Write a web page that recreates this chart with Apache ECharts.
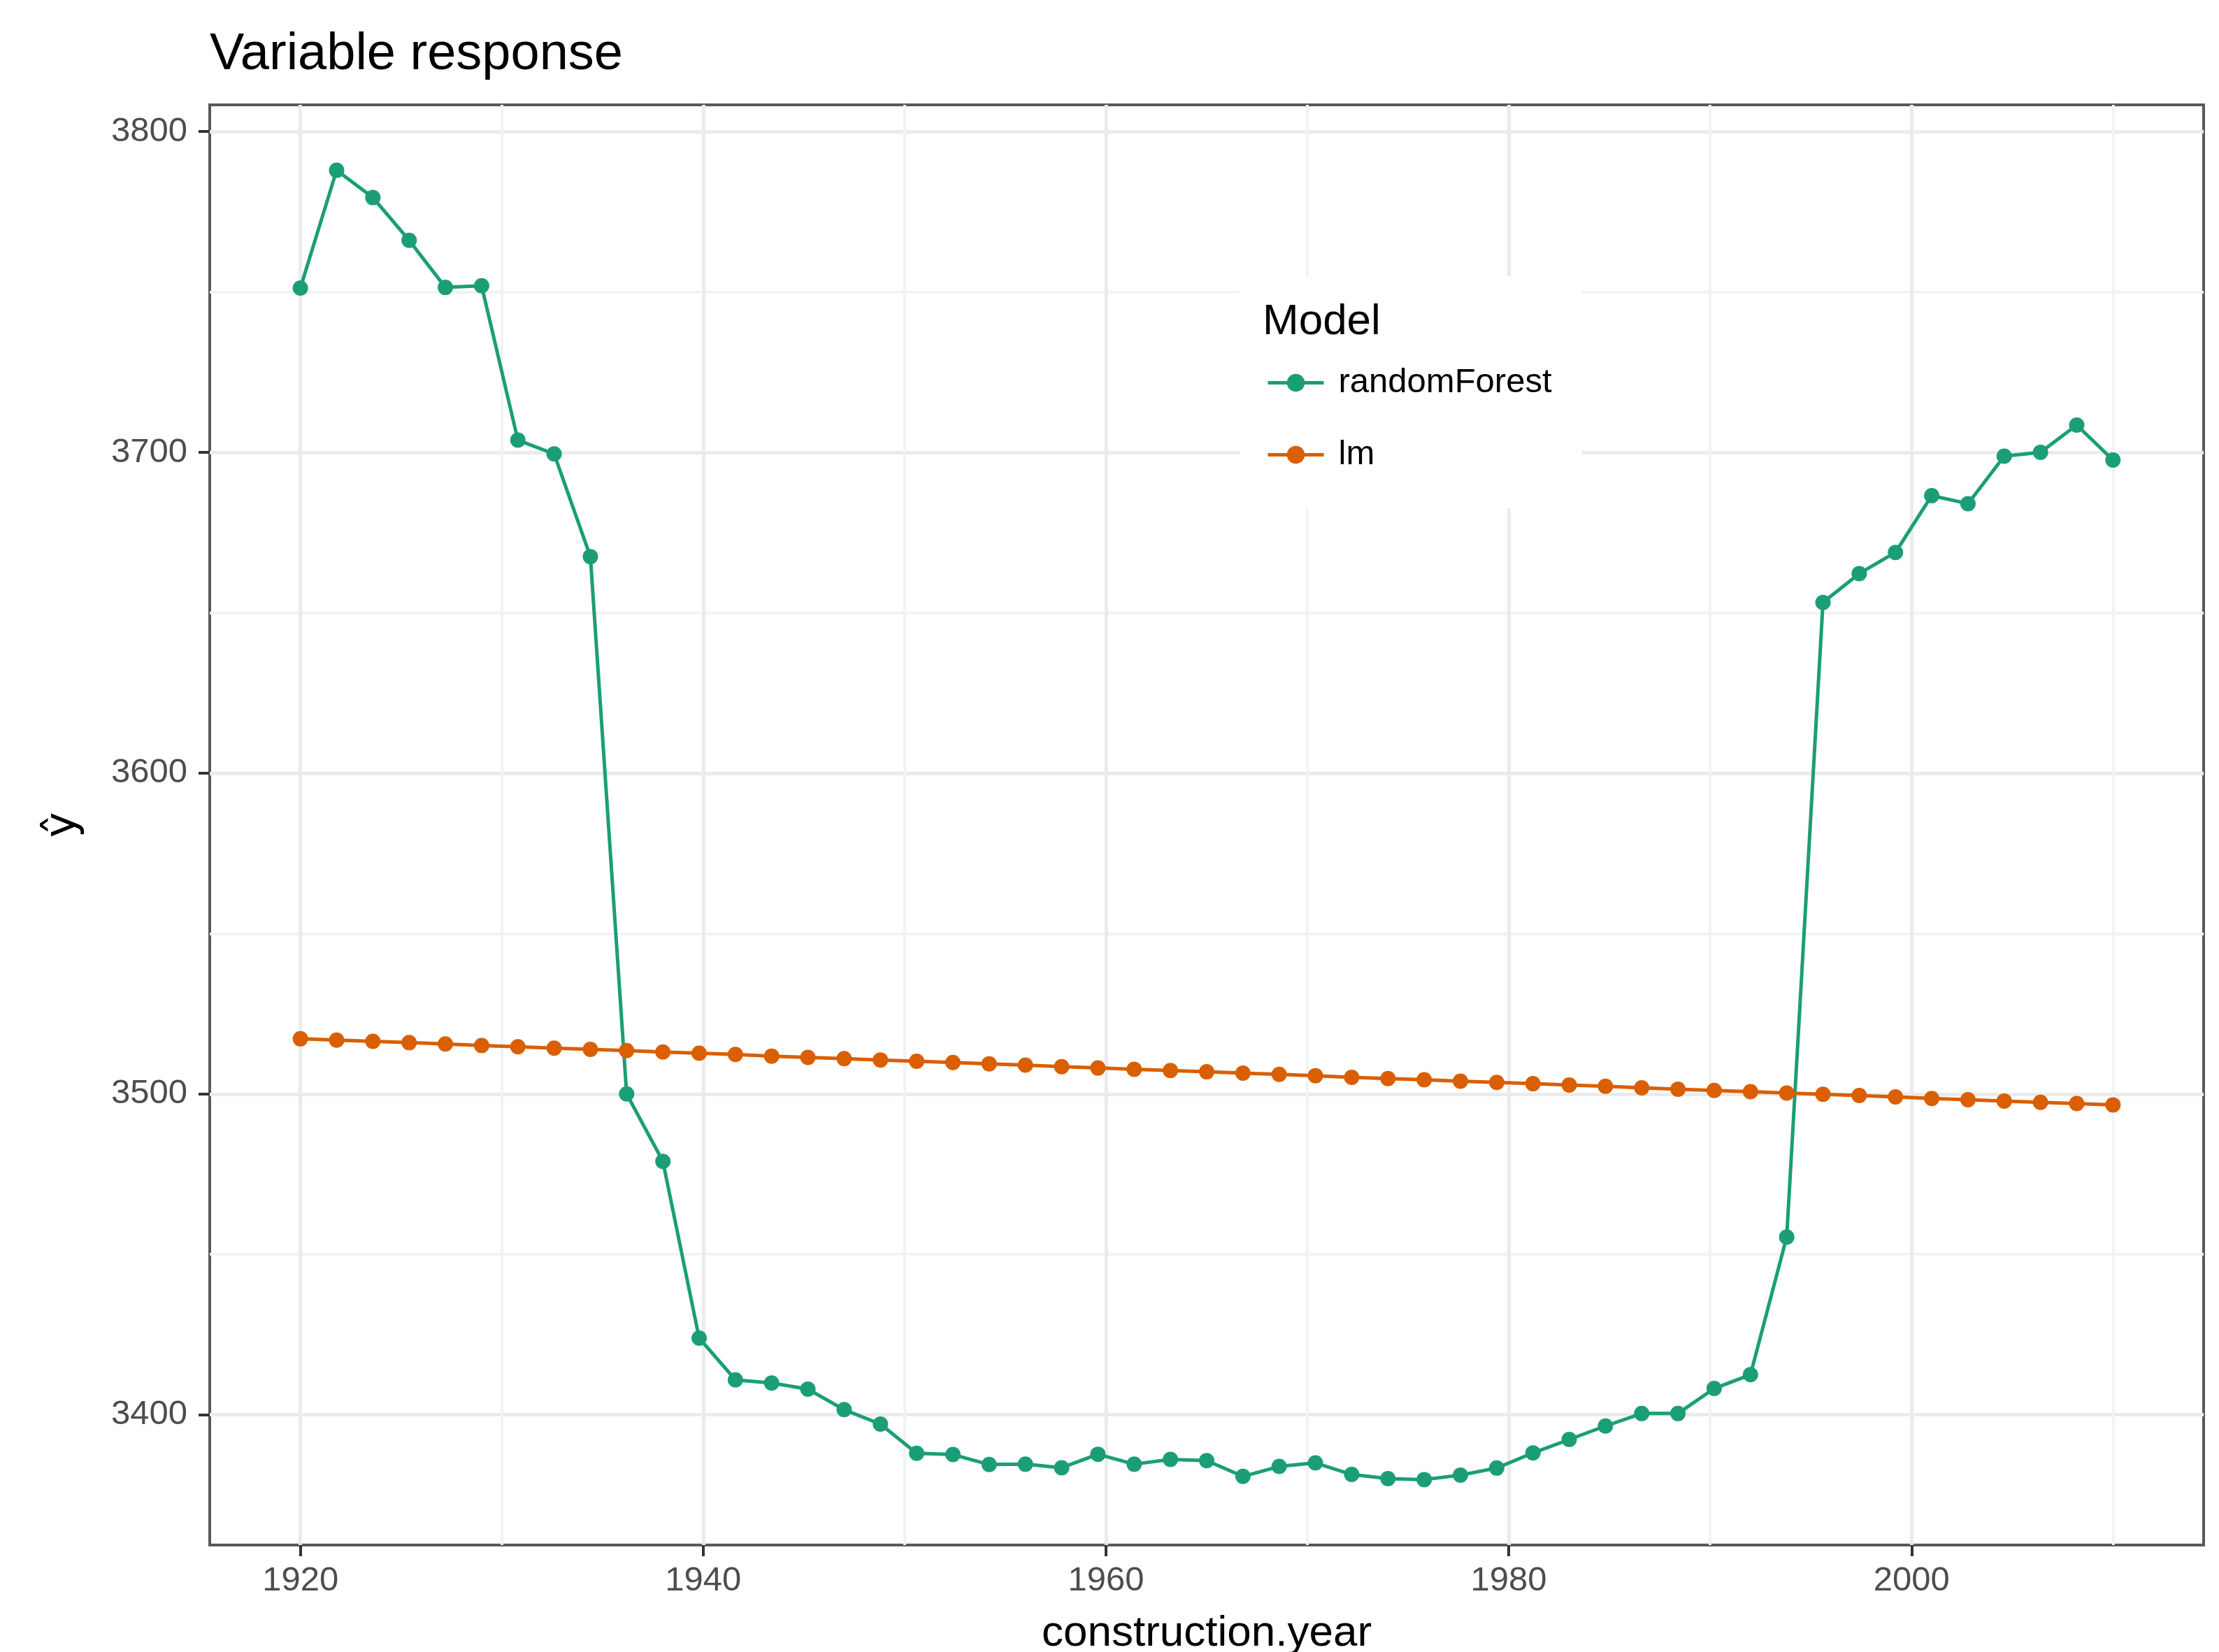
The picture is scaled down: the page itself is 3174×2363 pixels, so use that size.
<!DOCTYPE html>
<html>
<head>
<meta charset="utf-8">
<title>Variable response</title>
<script src="https://cdn.jsdelivr.net/npm/echarts@6/dist/echarts.min.js"></script>
<style>
  html, body { margin: 0; padding: 0; background: #fff; }
  #chart { width: 3174px; height: 2363px; }
</style>
</head>
<body>
<div id="chart"></div>
<script>
// construction.year values the models were evaluated at
var years = [1920, 1921.8, 1923.6, 1925.4, 1927.2, 1929, 1930.8, 1932.6, 1934.4, 1936.2,
  1938, 1939.8, 1941.6, 1943.4, 1945.2, 1947, 1948.8, 1950.6, 1952.4, 1954.2,
  1956, 1957.8, 1959.6, 1961.4, 1963.2, 1965, 1966.8, 1968.6, 1970.4, 1972.2,
  1974, 1975.8, 1977.6, 1979.4, 1981.2, 1983, 1984.8, 1986.6, 1988.4, 1990.2,
  1992, 1993.8, 1995.6, 1997.4, 1999.2, 2001, 2002.8, 2004.6, 2006.4, 2008.2, 2010];

// predicted response (y hat) per model
var randomForest = [3751.2, 3787.9, 3779.4, 3766.1, 3751.4, 3751.9, 3703.8, 3699.5, 3667.5, 3500.0,
  3479.0, 3423.9, 3410.9, 3409.9, 3408.0, 3401.6, 3397.1, 3388.0, 3387.6, 3384.5,
  3384.6, 3383.5, 3387.7, 3384.6, 3386.1, 3385.7, 3380.8, 3383.9, 3385.0, 3381.4,
  3380.1, 3379.8, 3381.2, 3383.4, 3388.1, 3392.3, 3396.5, 3400.4, 3400.4, 3408.2,
  3412.5, 3455.4, 3653.2, 3662.2, 3668.8, 3686.5, 3684.0, 3698.8, 3700.0, 3708.5, 3697.6];
var lm = [3517.2, 3516.8, 3516.4, 3516.0, 3515.6, 3515.1, 3514.7, 3514.3, 3513.9, 3513.5,
  3513.1, 3512.7, 3512.3, 3511.8, 3511.4, 3511.0, 3510.6, 3510.2, 3509.8, 3509.4,
  3509.0, 3508.5, 3508.1, 3507.7, 3507.3, 3506.9, 3506.5, 3506.1, 3505.7, 3505.2,
  3504.8, 3504.4, 3504.0, 3503.6, 3503.2, 3502.8, 3502.4, 3501.9, 3501.5, 3501.1,
  3500.7, 3500.3, 3499.9, 3499.5, 3499.1, 3498.6, 3498.2, 3497.8, 3497.4, 3497.0, 3496.6];

// tick / grid positions
var xMajor = [1920, 1940, 1960, 1980, 2000];
var xMinor = [1930, 1950, 1970, 1990, 2010];
var yMajor = [3400, 3500, 3600, 3700, 3800];
var yMinor = [3450, 3550, 3650, 3750];

var font = '"Liberation Sans", Arial, sans-serif';

function pairs(vals) {
  return years.map(function (x, i) { return [x, vals[i]]; });
}
function plain(v) { return String(v); }

var chart = echarts.init(document.getElementById('chart'));

chart.setOption({
  animation: false,
  backgroundColor: '#fff',
  title: [{
    text: 'Variable response',
    left: 300, top: 42, padding: 0,
    textStyle: { fontSize: 74, fontWeight: 'normal', color: '#000', fontFamily: font }
  }, {
    text: 'Model',
    left: 1806, top: 430, padding: 0, z: 10,
    textStyle: { fontSize: 62, fontWeight: 'normal', color: '#000', fontFamily: font }
  }],
  legend: {
    data: ['randomForest', 'lm'],
    orient: 'vertical',
    left: 1773, top: 395,
    padding: [128, 43, 52, 38],
    backgroundColor: '#fff',
    itemWidth: 80, itemHeight: 32, itemGap: 54,
    lineStyle: { width: 5 },
    textStyle: { fontSize: 49, color: '#000', fontFamily: font, padding: [0, 0, 0, 16] }
  },
  grid: {
    left: 300, right: 22, top: 150, bottom: 153,
    outerBoundsMode: 'none',
    show: true, borderColor: '#595959', borderWidth: 4
  },
  xAxis: [{
    type: 'value', min: 1915.5, max: 2014.5,
    axisLine: { show: false },
    axisTick: { length: 16, lineStyle: { color: '#333', width: 4 }, customValues: xMajor },
    axisLabel: { customValues: xMajor, formatter: plain, fontSize: 49, color: '#4D4D4D', fontFamily: font, margin: 27 },
    splitLine: { show: true, lineStyle: { color: '#EBEBEB', width: 5 } },
    name: 'construction.year', nameLocation: 'middle', nameGap: 96,
    nameTextStyle: { fontSize: 62, color: '#000', fontFamily: font }
  }, {
    type: 'value', min: 1915.5, max: 2014.5,
    axisLine: { show: false },
    axisTick: { show: false, customValues: xMinor },
    axisLabel: { show: false },
    splitLine: { show: true, lineStyle: { color: '#F3F3F3', width: 4 } }
  }],
  yAxis: [{
    type: 'value', min: 3359.4, max: 3808.3,
    axisLine: { show: false },
    axisTick: { length: 16, lineStyle: { color: '#333', width: 4 }, customValues: yMajor },
    axisLabel: { customValues: yMajor, formatter: plain, fontSize: 49, color: '#4D4D4D', fontFamily: font, margin: 32 },
    splitLine: { show: true, lineStyle: { color: '#EBEBEB', width: 5 } },
    name: 'ŷ', nameLocation: 'middle', nameGap: 178,
    nameTextStyle: { fontSize: 62, color: '#000', fontFamily: '"DejaVu Sans", sans-serif' }
  }, {
    type: 'value', min: 3359.4, max: 3808.3,
    axisLine: { show: false },
    axisTick: { show: false, customValues: yMinor },
    axisLabel: { show: false },
    splitLine: { show: true, lineStyle: { color: '#F3F3F3', width: 4 } }
  }],
  series: [{
    name: 'randomForest', type: 'line',
    data: pairs(randomForest),
    symbol: 'circle', symbolSize: 22,
    color: '#1B9E77',
    lineStyle: { width: 5 }
  }, {
    name: 'lm', type: 'line',
    data: pairs(lm),
    symbol: 'circle', symbolSize: 22,
    color: '#D95F02',
    lineStyle: { width: 5 }
  }]
});
</script>
</body>
</html>
